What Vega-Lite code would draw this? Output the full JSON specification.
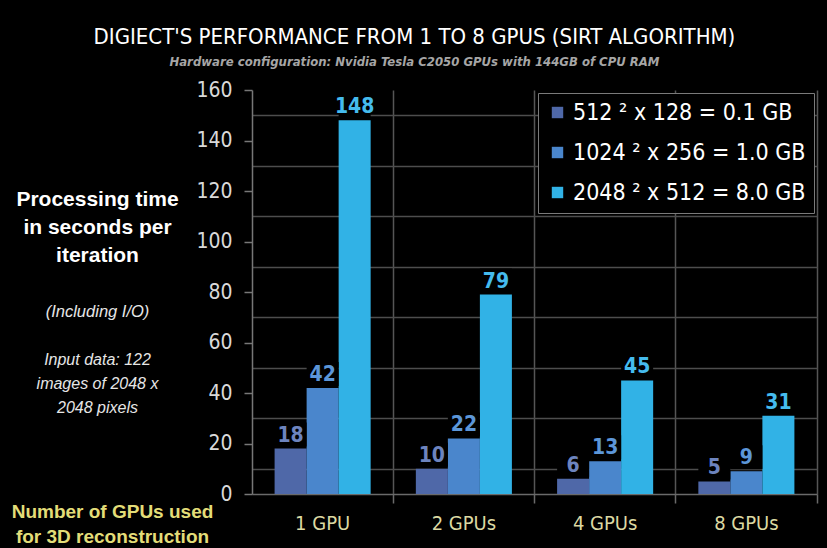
{
  "$schema": "https://vega.github.io/schema/vega-lite/v6.json",
  "width": 565,
  "height": 404,
  "autosize": {"type": "none"},
  "padding": {"left": 252, "top": 90, "right": 10, "bottom": 54},
  "background": "#000000",
  "config": {"view": {"stroke": null}, "font": "DejaVu Sans Condensed, Roboto, sans-serif"},
  "title": {
    "text": "DIGIECT'S PERFORMANCE FROM 1 TO 8 GPUS (SIRT ALGORITHM)",
    "subtitle": "Hardware configuration: Nvidia Tesla C2050 GPUs with 144GB of CPU RAM",
    "anchor": "middle",
    "frame": "bounds",
    "font": "DejaVu Sans Condensed, Roboto, sans-serif",
    "fontSize": 22,
    "fontWeight": "normal",
    "color": "#ffffff",
    "subtitleFont": "DejaVu Sans Condensed, Roboto, sans-serif",
    "subtitleFontSize": 13,
    "subtitleFontStyle": "italic",
    "subtitleFontWeight": "bold",
    "subtitleColor": "#a6a6a6",
    "subtitlePadding": 7,
    "offset": 9
  },
  "data": {
    "values": [
      {"gpus": "1 GPU", "volume": "512 ² x 128 = 0.1 GB", "time": 18},
      {"gpus": "1 GPU", "volume": "1024 ² x 256 = 1.0 GB", "time": 42},
      {"gpus": "1 GPU", "volume": "2048 ² x 512 = 8.0 GB", "time": 148},
      {"gpus": "2 GPUs", "volume": "512 ² x 128 = 0.1 GB", "time": 10},
      {"gpus": "2 GPUs", "volume": "1024 ² x 256 = 1.0 GB", "time": 22},
      {"gpus": "2 GPUs", "volume": "2048 ² x 512 = 8.0 GB", "time": 79},
      {"gpus": "4 GPUs", "volume": "512 ² x 128 = 0.1 GB", "time": 6},
      {"gpus": "4 GPUs", "volume": "1024 ² x 256 = 1.0 GB", "time": 13},
      {"gpus": "4 GPUs", "volume": "2048 ² x 512 = 8.0 GB", "time": 45},
      {"gpus": "8 GPUs", "volume": "512 ² x 128 = 0.1 GB", "time": 5},
      {"gpus": "8 GPUs", "volume": "1024 ² x 256 = 1.0 GB", "time": 9},
      {"gpus": "8 GPUs", "volume": "2048 ² x 512 = 8.0 GB", "time": 31}
    ]
  },
  "encoding": {
    "x": {
      "field": "gpus",
      "type": "nominal",
      "sort": ["1 GPU", "2 GPUs", "4 GPUs", "8 GPUs"],
      "scale": {"paddingInner": 0.32, "paddingOuter": 0.16},
      "axis": {
        "title": ["Number of GPUs used", "for 3D reconstruction"],
        "titleColor": "#e3dd78",
        "titleFont": "Liberation Sans",
        "titleFontSize": 19,
        "titleFontWeight": "bold",
        "titleX": -140,
        "titleY": 23,
        "titleAlign": "center",
        "titleBaseline": "alphabetic",
        "titleLineHeight": 25,
        "titleAngle": 0,
        "labelAngle": 0,
        "labelColor": "#dcd9a3",
        "labelFontSize": 20,
        "labelPadding": 10,
        "bandPosition": 1.2353,
        "grid": true,
        "gridColor": "#555555",
        "gridWidth": 1.5,
        "domainColor": "#6a6a6a",
        "domainWidth": 1.5,
        "tickColor": "#6a6a6a",
        "tickSize": 9,
        "tickWidth": 1.5
      }
    },
    "xOffset": {
      "field": "volume",
      "type": "nominal",
      "sort": ["512 ² x 128 = 0.1 GB", "1024 ² x 256 = 1.0 GB", "2048 ² x 512 = 8.0 GB"],
      "scale": {"paddingInner": 0, "paddingOuter": 0}
    }
  },
  "layer": [
    {
      "mark": {"type": "bar"},
      "encoding": {
        "y": {
          "field": "time",
          "type": "quantitative",
          "scale": {"domain": [0, 160]},
          "axis": {
            "orient": "left",
            "values": [0, 20, 40, 60, 80, 100, 120, 140, 160],
            "grid": false,
            "labelColor": "#d9d9d9",
            "labelFontSize": 21,
            "labelPadding": 12,
            "tickColor": "#777777",
            "tickSize": 8,
            "tickWidth": 1.5,
            "domainColor": "#777777",
            "domainWidth": 1.5,
            "title": ["Processing time", "in seconds per", "iteration"],
            "titleFont": "Liberation Sans",
            "titleFontSize": 21,
            "titleFontWeight": "bold",
            "titleColor": "#ffffff",
            "titleAngle": 0,
            "titleAlign": "center",
            "titleBaseline": "alphabetic",
            "titleX": -155,
            "titleY": 115,
            "titleLineHeight": 28
          }
        },
        "color": {
          "field": "volume",
          "type": "nominal",
          "sort": ["512 ² x 128 = 0.1 GB", "1024 ² x 256 = 1.0 GB", "2048 ² x 512 = 8.0 GB"],
          "scale": {"range": ["#4f68a8", "#4a86cc", "#31b2e6"]},
          "legend": {
            "title": null,
            "orient": "top-right",
            "offset": 3,
            "fillColor": "#000000",
            "strokeColor": "#7a7a7a",
            "padding": 8,
            "labelColor": "#ffffff",
            "labelFontSize": 23,
            "labelFont": "DejaVu Sans Condensed, Roboto, sans-serif",
            "labelLimit": 400,
            "symbolType": "square",
            "symbolSize": 130,
            "symbolStrokeWidth": 0,
            "rowPadding": 16
          }
        }
      }
    },
    {
      "mark": {"type": "tick", "color": "#000000", "thickness": 24, "size": 32, "yOffset": -14, "opacity": 1},
      "encoding": {
        "y": {
          "field": "time",
          "type": "quantitative",
          "axis": {
            "orient": "left",
            "values": [10, 30, 50, 70, 90, 110, 130, 150],
            "grid": true,
            "gridColor": "#4d4d4d",
            "gridWidth": 1.5,
            "labels": false,
            "ticks": false,
            "domain": false,
            "title": ["Input data: 122", "images of 2048 x", "2048 pixels"],
            "titleFont": "Liberation Sans",
            "titleFontSize": 16,
            "titleFontStyle": "italic",
            "titleFontWeight": "normal",
            "titleColor": "#e6e6e6",
            "titleAngle": 0,
            "titleAlign": "center",
            "titleBaseline": "alphabetic",
            "titleX": -155,
            "titleY": 274,
            "titleLineHeight": 24
          }
        }
      }
    },
    {
      "mark": {"type": "text", "baseline": "bottom", "dy": -3, "fontSize": 21, "fontWeight": "bold", "font": "DejaVu Sans Condensed, Roboto, sans-serif"},
      "encoding": {
        "y": {
          "field": "time",
          "type": "quantitative",
          "axis": {
            "orient": "left",
            "grid": false,
            "labels": false,
            "ticks": false,
            "domain": false,
            "title": "(Including I/O)",
            "titleFont": "Liberation Sans",
            "titleFontSize": 16.5,
            "titleFontStyle": "italic",
            "titleFontWeight": "normal",
            "titleColor": "#e6e6e6",
            "titleAngle": 0,
            "titleAlign": "center",
            "titleBaseline": "alphabetic",
            "titleX": -155,
            "titleY": 226
          }
        },
        "text": {"field": "time", "type": "quantitative"},
        "color": {
          "field": "volume",
          "type": "nominal",
          "sort": ["512 ² x 128 = 0.1 GB", "1024 ² x 256 = 1.0 GB", "2048 ² x 512 = 8.0 GB"],
          "scale": {"range": ["#6d84be", "#5c96d8", "#45bbee"]},
          "legend": null
        }
      }
    }
  ],
  "resolve": {"axis": {"y": "independent"}, "scale": {"color": "independent"}}
}
